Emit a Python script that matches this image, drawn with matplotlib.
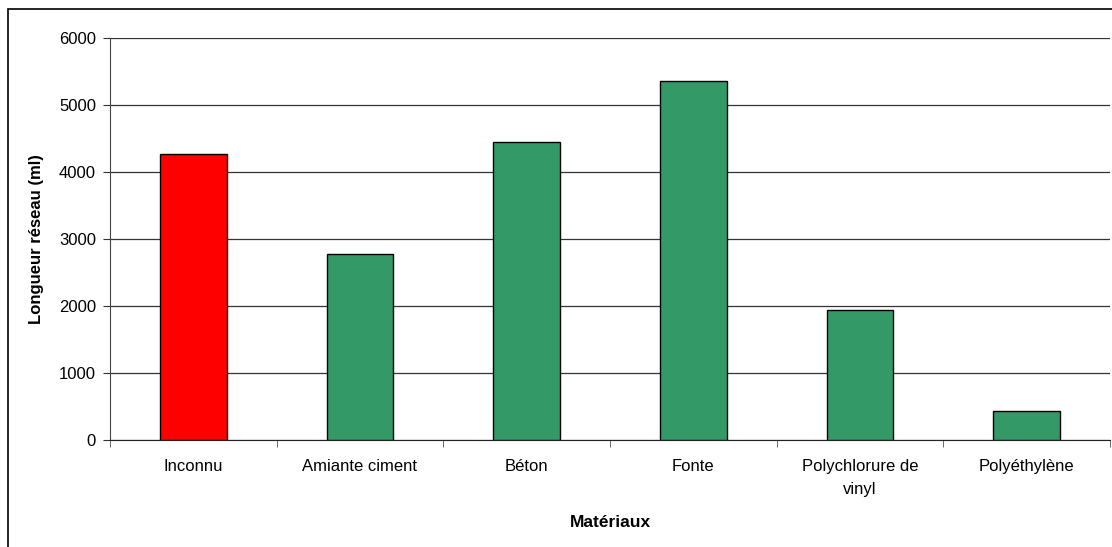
import matplotlib.pyplot as plt
from matplotlib.patches import Rectangle

categories = ['Inconnu', 'Amiante ciment', 'Béton', 'Fonte',
              'Polychlorure de\nvinyl', 'Polyéthylène']
lengths = [4270, 2780, 4450, 5360, 1940, 430]
colors = ['#ff0000', '#339966', '#339966', '#339966', '#339966', '#339966']
yticks = [0, 1000, 2000, 3000, 4000, 5000, 6000]

plt.rcParams['font.family'] = ['Liberation Sans', 'DejaVu Sans']

fig = plt.figure(figsize=(11.12, 5.47), dpi=100)
ax = fig.add_axes([110 / 1112, 107 / 547, 1000 / 1112, 402 / 547])

# outer chart border
fig.patches.append(Rectangle((8 / 1112, -0.05), 1.1, (538 / 547) + 0.05,
                             transform=fig.transFigure, fill=False,
                             edgecolor='black', linewidth=1.2))

x = list(range(len(categories)))
ax.bar(x, lengths, width=0.4, color=colors, edgecolor='black', linewidth=1, zorder=3)

ax.set_xlim(-0.5, len(categories) - 0.5)
ax.set_ylim(0, 6000)
ax.set_yticks(yticks)
ax.yaxis.grid(True, color='#333333', linewidth=0.9, zorder=0)

ax.set_xticks(x)
ax.set_xticklabels(categories, fontsize=12, linespacing=1.6, va='top')
ax.set_xticks([i + 0.5 for i in range(-1, len(categories))], minor=True)
ax.tick_params(axis='x', which='major', length=0, pad=14)
ax.tick_params(axis='x', which='minor', length=5, direction='out', color='#555555')
ax.tick_params(axis='y', length=5, direction='out', pad=5, labelsize=12, color='#333333')

for side in ['top', 'right']:
    ax.spines[side].set_visible(False)
ax.spines['left'].set_color('#444444')
ax.spines['bottom'].set_color('#222222')

ax.set_ylabel('Longueur réseau (ml)', fontsize=12, fontweight='bold', labelpad=11)
ax.set_xlabel('Matériaux', fontsize=12.5, fontweight='bold', labelpad=13)

fig.savefig('out.png', dpi=100)
